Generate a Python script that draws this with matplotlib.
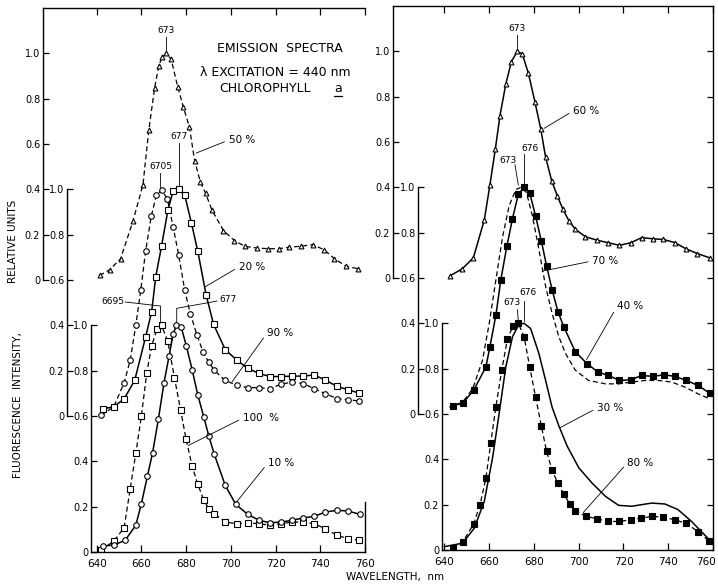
import matplotlib.pyplot as plt
import numpy as np

plt.rcParams['font.family'] = ['DejaVu Sans']

# ---- valores (intensidad relativa, sin desplazar) ----
# panel izquierdo
wl_50 = [641.3, 645.8, 650.7, 656.2, 660.7, 663.3, 665.9, 667.8, 669.3, 671.1, 673.3, 676.3, 678.8,
         681.5, 683.8, 686.4, 688.7, 691.5, 696.7, 701.6, 706.4, 711.7, 716.8, 721.4, 726.2, 731.4,
         736.6, 741.8, 746.3, 751.5, 756.7]
i_50 = [0.02, 0.045, 0.094, 0.259, 0.42, 0.66, 0.847, 0.945, 0.985, 1.0, 0.975, 0.85, 0.762,
        0.673, 0.527, 0.431, 0.383, 0.31, 0.218, 0.174, 0.148, 0.141, 0.138, 0.138, 0.145, 0.149,
        0.156, 0.133, 0.094, 0.061, 0.05]

wl_20 = [642.7, 647.6, 652.3, 657.0, 661.9, 664.6, 666.4, 669.0, 671.9, 674.2, 676.7, 679.4, 682.4,
         685.2, 689.0, 692.3, 697.5, 702.7, 707.6, 712.6, 717.5, 722.4, 727.4, 732.3, 737.2, 742.2,
         747.4, 752.3, 757.5]
i_20 = [0.032, 0.04, 0.076, 0.157, 0.349, 0.46, 0.613, 0.749, 0.91, 0.993, 1.0, 0.974, 0.85,
        0.728, 0.532, 0.404, 0.293, 0.246, 0.21, 0.188, 0.174, 0.174, 0.176, 0.176, 0.181, 0.159,
        0.131, 0.116, 0.101]

wl_90 = [641.9, 647.6, 652.3, 655.0, 657.5, 659.7, 661.9, 664.4, 666.7, 669.0, 671.6, 674.2, 676.7,
         679.4, 681.9, 684.9, 687.6, 690.1, 692.6, 697.5, 702.7, 707.6, 712.6, 717.5, 722.4, 727.4,
         732.3, 737.2, 742.2, 747.4, 752.3, 757.5]
i_90 = [0.003, 0.04, 0.147, 0.246, 0.40, 0.554, 0.728, 0.881, 0.974, 0.996, 0.959, 0.834, 0.709,
        0.554, 0.451, 0.356, 0.282, 0.238, 0.201, 0.157, 0.135, 0.125, 0.125, 0.121, 0.14, 0.15,
        0.143, 0.121, 0.099, 0.077, 0.072, 0.066]

wl_100 = [641.9, 647.6, 652.3, 655.0, 657.5, 660.0, 662.4, 664.6, 667.0, 669.0, 671.8, 674.8, 677.5,
          680.0, 682.7, 685.2, 687.9, 690.1, 692.6, 697.5, 702.7, 707.6, 712.6, 717.5, 722.4, 727.4,
          732.3, 737.2, 742.2, 747.4, 752.3, 757.5]
i_100 = [0.01, 0.047, 0.108, 0.279, 0.435, 0.60, 0.79, 0.91, 0.985, 1.0, 0.93, 0.768, 0.628,
         0.497, 0.379, 0.299, 0.229, 0.191, 0.169, 0.132, 0.125, 0.128, 0.125, 0.118, 0.125, 0.132,
         0.132, 0.125, 0.103, 0.074, 0.059, 0.051]

wl_10 = [642.7, 647.9, 652.7, 657.5, 660.0, 662.7, 665.0, 667.6, 670.1, 672.4, 674.2, 675.7, 677.8,
         680.1, 682.7, 685.2, 687.9, 690.2, 692.6, 697.5, 702.2, 707.6, 712.6, 717.5, 722.4, 727.4,
         732.3, 737.2, 742.2, 747.4, 752.3, 757.8]
i_10 = [0.025, 0.032, 0.051, 0.118, 0.213, 0.335, 0.437, 0.586, 0.746, 0.865, 0.963, 1.0, 0.993,
        0.909, 0.804, 0.694, 0.596, 0.51, 0.431, 0.294, 0.21, 0.166, 0.14, 0.129, 0.132, 0.14,
        0.15, 0.157, 0.176, 0.184, 0.181, 0.166]

# panel derecho
wl_60 = [642.5, 647.9, 652.9, 657.8, 660.3, 662.7, 664.8, 667.4, 669.9, 672.6, 674.8, 677.5, 680.4,
         683.0, 685.2, 687.9, 690.4, 692.9, 695.6, 698.5, 703.0, 708.1, 713.0, 718.2, 723.4, 728.1,
         733.3, 737.8, 743.0, 747.9, 753.0, 758.5]
i_60 = [0.01, 0.04, 0.089, 0.256, 0.41, 0.567, 0.716, 0.855, 0.955, 1.0, 0.988, 0.903, 0.778,
        0.659, 0.533, 0.429, 0.363, 0.304, 0.252, 0.215, 0.182, 0.167, 0.156, 0.144, 0.156, 0.178,
        0.173, 0.170, 0.156, 0.129, 0.108, 0.089]

wl_70 = [642.2, 648.1, 652.6, 657.0, 660.0, 663.0, 665.9, 668.9, 671.9, 674.1, 676.6, 679.3, 682.2,
         685.2, 688.1, 691.1, 694.1, 698.5, 704.4, 711.9, 717.8, 723.7, 729.6, 735.6, 741.5, 747.4,
         753.3, 758.5]
i_70 = [0.03, 0.052, 0.111, 0.237, 0.40, 0.593, 0.778, 0.919, 0.99, 1.0, 0.978, 0.874, 0.726,
        0.563, 0.444, 0.341, 0.267, 0.193, 0.148, 0.133, 0.133, 0.141, 0.148, 0.148, 0.141, 0.119,
        0.089, 0.067]

wl_40 = [643.7, 648.1, 653.0, 658.5, 660.3, 663.0, 665.2, 667.9, 670.4, 673.0, 675.6, 678.1, 680.7,
         683.3, 685.6, 688.1, 690.7, 693.3, 698.5, 703.7, 708.6, 713.3, 718.2, 723.4, 728.1, 733.0,
         738.2, 743.0, 748.1, 753.3, 758.5]
i_40 = [0.037, 0.047, 0.104, 0.207, 0.296, 0.437, 0.593, 0.741, 0.862, 0.970, 1.0, 0.975, 0.874,
        0.763, 0.655, 0.548, 0.452, 0.385, 0.274, 0.222, 0.185, 0.170, 0.148, 0.151, 0.170, 0.166,
        0.173, 0.166, 0.148, 0.126, 0.092]

wl_30 = [640.0, 648.1, 653.3, 657.8, 661.5, 664.4, 667.4, 670.4, 673.3, 675.6, 678.5, 682.2, 685.2,
         688.1, 691.1, 694.8, 700.0, 705.9, 711.9, 717.8, 723.7, 728.1, 732.6, 738.5, 744.4, 750.4,
         758.5]
i_30 = [0.015, 0.03, 0.096, 0.215, 0.407, 0.60, 0.807, 0.941, 0.996, 1.0, 0.977, 0.867, 0.748,
        0.63, 0.548, 0.459, 0.363, 0.296, 0.237, 0.197, 0.193, 0.20, 0.207, 0.203, 0.178, 0.126,
        0.044]

wl_80 = [643.7, 648.1, 653.0, 655.9, 658.5, 660.7, 663.0, 665.6, 668.1, 670.7, 673.0, 675.6, 678.1,
         680.7, 683.3, 685.6, 688.1, 690.7, 693.3, 696.0, 698.5, 703.3, 708.1, 713.0, 717.8, 723.4,
         727.9, 732.6, 737.8, 743.0, 748.1, 753.3, 758.2]
i_80 = [0.007, 0.034, 0.114, 0.20, 0.316, 0.474, 0.633, 0.793, 0.929, 0.99, 1.0, 0.941, 0.807,
        0.676, 0.547, 0.437, 0.351, 0.295, 0.246, 0.204, 0.172, 0.148, 0.138, 0.126, 0.126, 0.133,
        0.141, 0.148, 0.145, 0.133, 0.117, 0.081, 0.040]

TICKS = [0, 0.2, 0.4, 0.6, 0.8, 1.0]
X_TICKS = [640, 660, 680, 700, 720, 740, 760]
OFFSETS = [1.2, 0.6, 0.0]   # escalas apiladas: arriba, medio, abajo
W, H = 718, 584

fig = plt.figure(figsize=(W / 100, H / 100), dpi=100)


def fmt(v):
    return '0' if abs(v) < 1e-9 else f'{v:.1f}'


def make_panel(l, r, t, b, x_left, axis_x, full_right):
    ax = fig.add_axes([l / W, 1 - b / H, (r - l) / W, (b - t) / H])
    ax.set_xlim(x_left, 760)
    ax.set_ylim(0, 2.4)
    for sp in ax.spines.values():
        sp.set_linewidth(1.0)
    ax.spines['left'].set_visible(False)
    ax.spines['bottom'].set_bounds(axis_x[2], 760)
    ax.set_xticks(X_TICKS)
    ax.tick_params(axis='x', direction='in', top=True, length=5, width=0.9,
                   labelsize=7.5, pad=5)
    if full_right:
        ax.set_yticks(np.arange(0.2, 2.21, 0.2))
        ax.tick_params(axis='y', left=False, labelleft=False, right=True, labelright=False,
                       direction='in', length=4, width=0.9)
        # la ultima etiqueta queda pegada al borde: se corre un poco a la izquierda
        ax.set_xticklabels([str(v) for v in X_TICKS[:-1]] + [''])
        ax.annotate(str(X_TICKS[-1]), xy=(760, 0), xycoords='data', xytext=(-5, -5),
                    textcoords='offset points', ha='center', va='top', fontsize=7.5)
    else:
        ax.set_yticks([])
        ax.spines['right'].set_bounds(0, 0.22)
    # ejes verticales desplazados
    for off, xa in zip(OFFSETS, axis_x):
        loc = (xa - x_left) / (760 - x_left)
        sec = ax.secondary_yaxis(loc, functions=(lambda y, o=off: y - o, lambda y, o=off: y + o))
        sec.set_yticks(TICKS)
        sec.set_yticklabels([fmt(v) for v in TICKS])
        sec.tick_params(direction='in', length=4.5, width=0.9, labelsize=7, pad=2)
        sec.spines['left'].set_bounds(0, 2.4 - off if off > 1 else 1.0)
        sec.spines['left'].set_linewidth(1.0)
    return ax


def curve(ax, wl, val, off, ls, marker=None, filled=False, ms=4):
    y = np.array(val) + off
    kw = dict(color='k', marker=marker, ms=ms, mec='k', mew=0.8,
              mfc='k' if filled else 'white')
    if ls == '-':
        ax.plot(wl, y, ls='-', lw=1.1, **kw)
    else:
        ax.plot(wl, y, ls='--', dashes=(4, 2.5), lw=0.9, **kw)


def peak(ax, txt, x, y_text, y0, y1):
    ax.text(x, y_text, txt, ha='center', va='bottom', fontsize=6.5)
    ax.plot([x, x], [y0, y1], color='k', lw=0.6)


def tag(ax, txt, xy, xytext):
    ax.annotate(txt, xy=xy, xytext=xytext, ha='left', va='center', fontsize=7.5,
                arrowprops=dict(arrowstyle='-', lw=0.6, shrinkA=1, shrinkB=0, relpos=(0, 0.5)))


# ---------------- panel izquierdo ----------------
axL = make_panel(43, 365, 8, 552, 616, [616, 626.7, 637.5], False)
curve(axL, wl_50, i_50, 1.2, '--', '^', ms=3.5)
curve(axL, wl_90, i_90, 0.6, '--', 'o')
curve(axL, wl_20, i_20, 0.6, '-', 's')
curve(axL, wl_100, i_100, 0.0, '--', 's')
curve(axL, wl_10, i_10, 0.0, '-', 'o')

axL.text(722, 2.223, 'EMISSION  SPECTRA', ha='center', va='center', fontsize=9)
axL.text(720, 2.117, 'λ EXCITATION = 440 nm', ha='center', va='center', fontsize=9)
axL.text(715.3, 2.047, 'CHLOROPHYLL', ha='center', va='center', fontsize=9)
axL.text(747.9, 2.047, 'a', ha='center', va='center', fontsize=9)
axL.plot([746.3, 749.5], [2.010, 2.010], color='k', lw=0.9)

peak(axL, '673', 671.1, 2.28, 2.215, 2.27)
peak(axL, '677', 676.7, 1.815, 1.615, 1.805)
peak(axL, '6705', 668.5, 1.68, 1.61, 1.67)
tag(axL, '50 %', (684.5, 1.76), (699, 1.817))
tag(axL, '20 %', (688.5, 1.17), (703.5, 1.257))
tag(axL, '90 %', (700.5, 0.75), (716.2, 0.966))
tag(axL, '100  %', (681, 0.47), (705.4, 0.591))
tag(axL, '10 %', (702.5, 0.22), (716.6, 0.393))
axL.text(647.1, 1.103, '6695', ha='center', va='center', fontsize=6.5)
axL.plot([652.8, 668.6, 668.6], [1.103, 1.085, 1.01], color='k', lw=0.6)
axL.text(698.7, 1.112, '677', ha='center', va='center', fontsize=6.5)
axL.plot([693.8, 675.8, 675.8], [1.107, 1.075, 1.015], color='k', lw=0.6)

# ---------------- panel derecho ----------------
axR = make_panel(393, 713, 6, 550, 617, [617, 628.2, 638.9], True)
curve(axR, wl_60, i_60, 1.2, '-', '^', ms=3.5)
curve(axR, wl_70, i_70, 0.6, '--')
curve(axR, wl_40, i_40, 0.6, '-', 's', filled=True)
curve(axR, wl_30, i_30, 0.0, '-')
curve(axR, wl_80, i_80, 0.0, '--', 's', filled=True)

peak(axR, '673', 672.6, 2.28, 2.215, 2.27)
axR.text(678.3, 1.77, '676', ha='center', va='center', fontsize=6.5)
axR.plot([675.6, 675.6], [1.61, 1.745], color='k', lw=0.6)
axR.text(668.2, 1.72, '673', ha='center', va='center', fontsize=6.5)
axR.plot([671.5, 673.0], [1.70, 1.61], color='k', lw=0.6)
axR.text(677.4, 1.134, '676', ha='center', va='center', fontsize=6.5)
axR.plot([675.6, 675.6], [1.10, 1.01], color='k', lw=0.6)
axR.text(670.2, 1.09, '673', ha='center', va='center', fontsize=6.5)
axR.plot([672.6, 673.0], [1.06, 1.01], color='k', lw=0.6)
tag(axR, '60 %', (684.5, 1.86), (697.5, 1.937))
tag(axR, '70 %', (683.6, 1.23), (706, 1.275))
tag(axR, '40 %', (703.5, 0.84), (717.2, 1.076))
tag(axR, '30 %', (691.7, 0.54), (708.2, 0.626))
tag(axR, '80 %', (702, 0.165), (721.7, 0.384))

fig.text(13 / W, 1 - 241 / H, 'RELATIVE UNITS', rotation=90, ha='center', va='center', fontsize=7.5)
fig.text(18 / W, 1 - 405 / H, 'FLUORESCENCE  INTENSITY,', rotation=90, ha='center', va='center',
         fontsize=7.5)
fig.text(395 / W, 1 - 577 / H, 'WAVELENGTH,  nm', ha='center', va='center', fontsize=7.5)

fig.savefig('out.png', dpi=100)
